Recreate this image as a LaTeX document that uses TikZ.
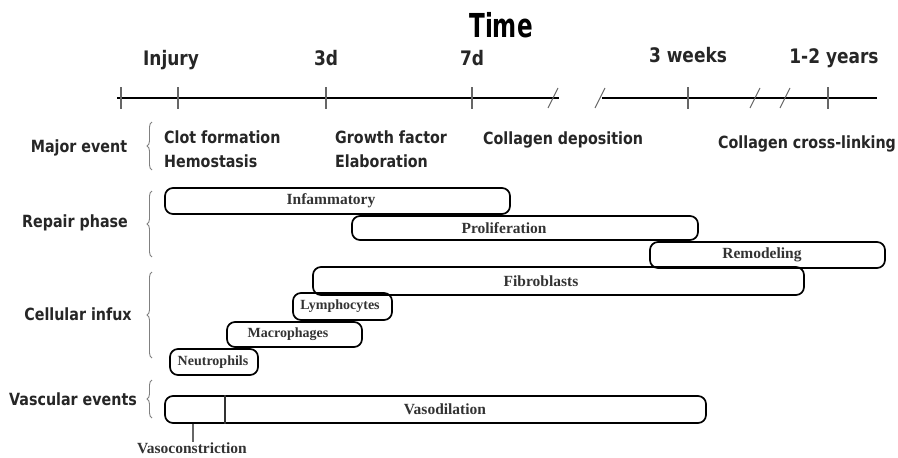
\documentclass[tikz,border=0pt]{standalone}
\usepackage{fontspec}
\setmainfont{Liberation Serif}
\newfontfamily\headfont[FakeStretch=0.85]{DejaVu Sans}
\newfontfamily\titlefont[FakeStretch=0.7]{DejaVu Sans}
\usetikzlibrary{decorations.pathreplacing}

\begin{document}
\begin{tikzpicture}[x=1pt,y=-1pt,
		phase/.style={draw, line width=1.7pt, rounded corners=8pt, inner sep=0pt},
		tag/.style={font=\bfseries\fontsize{15.5}{17}\selectfont, text=black!80, inner sep=0pt},
		cell/.style={font=\bfseries\fontsize{14}{16}\selectfont, text=black!80, inner sep=0pt},
		head/.style={font=\headfont\bfseries\fontsize{16.8}{18}\selectfont, text=black!85, anchor=base, inner sep=0pt},
		when/.style={font=\headfont\bfseries\fontsize{20}{22}\selectfont, text=black!85, anchor=base, inner sep=0pt},
		tick/.style={black!60, line width=1.1pt},
		cut/.style={black!60, line width=1.1pt},
		grp/.style={black!50, line width=0.9pt, decorate, decoration={brace, amplitude=5pt}}]
		\useasboundingbox (0,0) rectangle (898,458);

		% time axis
		\node[font=\titlefont\bfseries\fontsize{33}{36}\selectfont, anchor=base, inner sep=0pt] (time) at (501,37) {Time};
		\node[when] (t0) at (171,65) {Injury};
		\node[when] (t3) at (326,65) {3d};
		\node[when] (t7) at (472,65) {7d};
		\node[when] (t21) at (688,62) {3 weeks};
		\node[when] (ty) at (834,63) {1-2 years};

		\draw[line width=2.4pt] (117,98) -- (559,98);
		\draw[line width=2.4pt] (602,98) -- (877,98);
		\foreach \x in {121,178,326,472,688,828}
			\draw[tick] (\x,87) -- (\x,109);
		\foreach \x in {553,600,755,785}
			\draw[cut] (\x-5,108) -- (\x+5,88);

		% row titles
		\node[head] (major) at (79,152) {Major event};
		\node[head] (repair) at (75,227) {Repair phase};
		\node[head] (cells) at (78,320) {Cellular infux};
		\node[head] (vasc) at (73,405) {Vascular events};

		\draw[grp] (152,170) -- (152,122);
		\draw[grp] (152,257) -- (152,191);
		\draw[grp] (152,358) -- (152,272);
		\draw[grp] (152,418) -- (152,380);

		% major events
		\node[head, anchor=base west] (clot) at (164,143) {Clot formation};
		\node[head, anchor=base west] (hemo) at (164,167) {Hemostasis};
		\node[head, anchor=base west] (growth) at (335,143) {Growth factor};
		\node[head, anchor=base west] (elab) at (335,167) {Elaboration};
		\node[head, anchor=base west] (depo) at (483,144) {Collagen deposition};
		\node[head, anchor=base west] (link) at (718,148) {Collagen cross-linking};

		% repair phases
		\node[phase, minimum width=345pt, minimum height=26pt] (infl) at (337.5,201) {};
		\node[tag] (inflt) at (331,201) {Infammatory};
		\node[phase, minimum width=346pt, minimum height=24pt] (prol) at (525,228) {};
		\node[tag] (prolt) at (504,228) {Proliferation};
		\node[phase, minimum width=235pt, minimum height=26pt] (remo) at (767.5,255) {};
		\node[tag] (remot) at (762,255) {Remodeling};

		% cellular infux
		\node[phase, minimum width=491pt, minimum height=28pt] (fibro) at (558.5,281) {};
		\node[tag] (fibrot) at (541,281) {Fibroblasts};
		\node[phase, minimum width=99pt, minimum height=27pt] (lymph) at (342.5,306.5) {};
		\node[cell] (lympht) at (340,306.5) {Lymphocytes};
		\node[phase, minimum width=135pt, minimum height=25pt] (macro) at (294.5,334.5) {};
		\node[cell] (macrot) at (288,334.5) {Macrophages};
		\node[phase, minimum width=88pt, minimum height=26pt] (neut) at (214,362) {};
		\node[cell] (neutt) at (213,362) {Neutrophils};

		% vascular events
		\node[phase, minimum width=541pt, minimum height=27pt] (dil) at (435.5,409.5) {};
		\node[tag] (dilt) at (445,409.5) {Vasodilation};
		\coordinate (split) at (225,0);
		\draw[line width=1.5pt, black!80] (split |- dil.north) -- (split |- dil.south);
		\node[tag, anchor=base] (cons) at (192,453) {Vasoconstriction};
		\coordinate (mark) at (193,0);
		\draw[tick] (mark |- dil.south) -- (mark |- cons.north);
	\end{tikzpicture}
\end{document}
